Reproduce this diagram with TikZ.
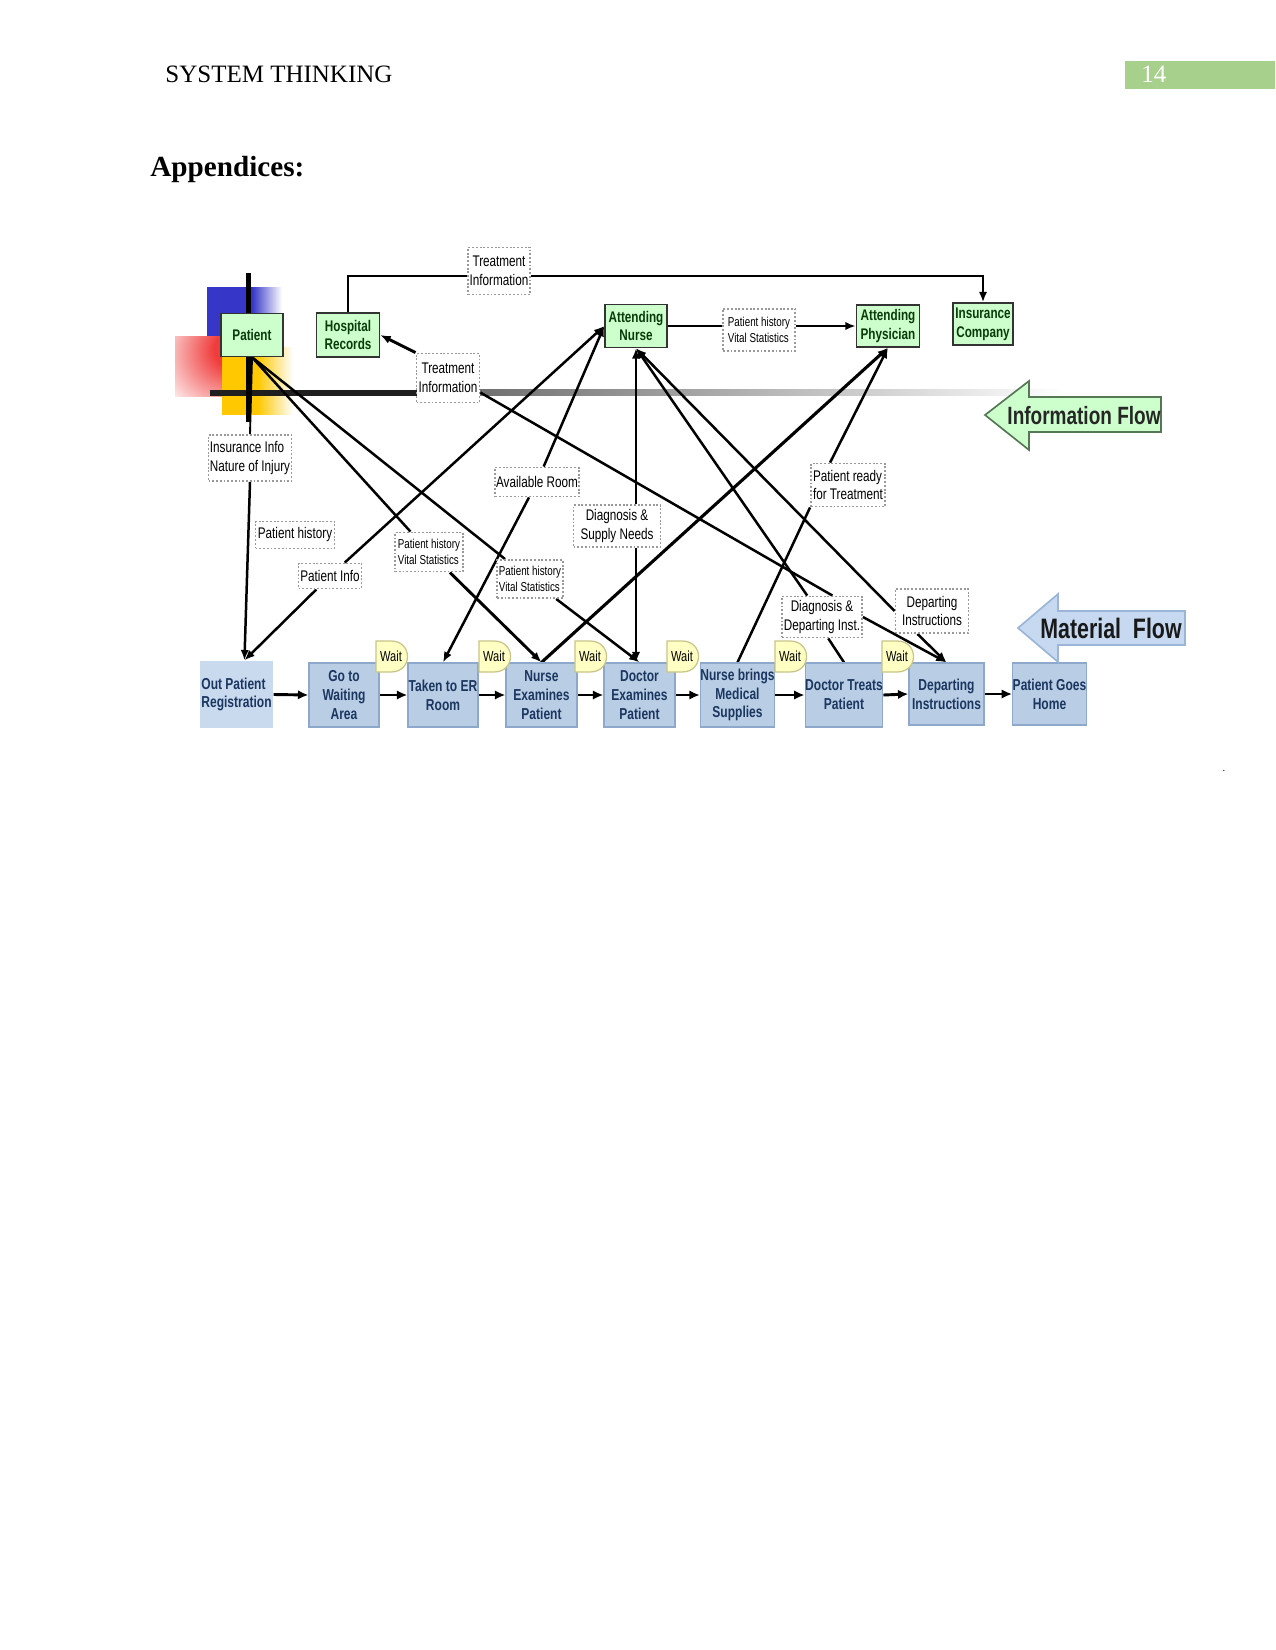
\documentclass[tikz,border=0pt]{standalone}
\usepackage{fontspec}
\setmainfont{Liberation Serif}
\newfontfamily\nar[FakeStretch=0.76]{Liberation Sans}
\usetikzlibrary{arrows.meta,calc}
\pgfdeclarelayer{bg}
\pgfsetlayers{bg,main}
\definecolor{gfill}{HTML}{CCFFCC}
\definecolor{gtext}{HTML}{0A3A0A}
\definecolor{bfill}{HTML}{B9CDE5}
\definecolor{bline}{HTML}{8EA8CB}
\definecolor{btext}{HTML}{1B3760}
\definecolor{ofill}{HTML}{C9DAEF}
\definecolor{wfill}{HTML}{FFFFC4}
\definecolor{wline}{HTML}{C9C48A}
\definecolor{pgreen}{HTML}{A8D08D}
\definecolor{sqblue}{HTML}{3636C8}
\definecolor{sqred}{HTML}{F03C3C}
\definecolor{sqyellow}{HTML}{FFC800}
\definecolor{mfill}{HTML}{C6D9F1}
\definecolor{mline}{HTML}{9AB5D8}
\definecolor{iline}{HTML}{557755}
\pgfdeclarehorizontalshading{bluefade}{100bp}{color(0bp)=(sqblue); color(55bp)=(sqblue); color(75bp)=(white); color(100bp)=(white)}
\pgfdeclarehorizontalshading{yellowfade}{100bp}{color(0bp)=(sqyellow); color(50bp)=(sqyellow); color(75bp)=(white); color(100bp)=(white)}
\pgfdeclareradialshading{redfade}{\pgfpoint{25bp}{18bp}}{color(0bp)=(sqred); color(16bp)=(sqred); color(55bp)=(white); color(100bp)=(white)}
\tikzset{
  boxsz/.style 2 args={minimum width=#1*0.48pt, minimum height=#2*0.48pt},
  greenbox/.style={draw=black!80, line width=0.7pt, fill=gfill, text=gtext, font=\nar\bfseries\fontsize{7.4}{9}\selectfont, align=center, inner sep=0pt},
  bluebox/.style={draw=bline, line width=0.6pt, fill=bfill, text=btext, font=\nar\bfseries\fontsize{7.6}{9}\selectfont, align=center, inner sep=0pt},
  dlab/.style={draw=black!40, dash pattern=on 0.9pt off 0.9pt, line width=0.9pt, fill=white, font=\nar\fontsize{7.4}{9.1}\selectfont, align=center, inner sep=0pt},
  sdlab/.style={dlab, font=\nar\fontsize{6.2}{7.7}\selectfont},
  conn/.style={line width=1.2pt, draw=black},
  arr/.style={conn, -{Latex[length=5pt,width=4pt]}},
  flowarr/.style={line width=1.4pt, -{Latex[length=5pt,width=4.5pt]}},
  waitshape/.style={draw=wline, fill=wfill, line width=0.6pt}
}
\begin{document}
\begin{tikzpicture}[x=0.48pt,y=-0.48pt]
\useasboundingbox (0,0) rectangle (1275,1650);
\begin{pgfonlayer}{bg}
\fill[white] (0,0) rectangle (1275,1650);
\shade[shading=bluefade] (207,288) rectangle (282,338);
\shade[shading=redfade] (175,337) rectangle (240,397);
\shade[shading=yellowfade] (222,348) rectangle (293,415);
\fill[black!88] (210,390) rectangle (420,396);
\shade[left color=black!62, right color=white] (420,390) rectangle (1065,396);
\fill[black] (245.5,273) rectangle (250.5,422);
\end{pgfonlayer}

% header
\fill[pgreen] (1125,61) rectangle (1275,89);
\node[anchor=base west, font=\fontsize{12}{14}\selectfont, text=white, inner sep=0] (pnum) at (1141,83) {14};
\node[anchor=base west, font=\fontsize{12}{14}\selectfont, inner sep=0] (hdr) at (165,83) {SYSTEM THINKING};
\node[anchor=base west, font=\bfseries\fontsize{14}{16}\selectfont, inner sep=0] (appx) at (150,177) {Appendices:};
\node[font=\fontsize{5}{6}\selectfont, inner sep=0] (dot) at (1224,771) {.};

% green boxes
\node[greenbox,boxsz={62}{43}] (patient) at (252,335) {Patient};
\node[greenbox,boxsz={63}{44}] (hosp) at (348,335) {Hospital\\Records};
\node[greenbox,boxsz={62}{43}] (anurse) at (636,326) {Attending\\Nurse};
\node[greenbox,boxsz={63}{42}] (aphys) at (888,326) {Attending\\Physician};
\node[greenbox,boxsz={60}{42}] (insur) at (983,324) {Insurance\\Company};

% dotted labels
\node[dlab,boxsz={62}{47}] (tinfo1) at (499,271) {Treatment\\Information};
\node[dlab,boxsz={63}{49}] (tinfo2) at (448,378) {Treatment\\Information};
\node[dlab,boxsz={83}{46},align=left] (insinfo) at (250,458) {Insurance Info\\Nature of Injury};
\node[dlab,boxsz={79}{27}] (phist) at (295,535) {Patient history};
\node[dlab,boxsz={63}{25}] (pinfo) at (330,576) {Patient Info};
\node[sdlab,boxsz={68}{39},align=left] (phvs1) at (429,552) {Patient history\\Vital Statistics};
\node[sdlab,boxsz={66}{38},align=left] (phvs2) at (530,579) {Patient history\\Vital Statistics};
\node[sdlab,boxsz={72}{42},align=left] (phvs3) at (759,330) {Patient history\\Vital Statistics};
\node[dlab,boxsz={84}{29}] (avroom) at (537,482) {Available Room};
\node[dlab,boxsz={87}{42}] (dsn) at (617,526) {Diagnosis \&\\Supply Needs};
\node[dlab,boxsz={74}{43},align=left] (pready) at (848,485) {Patient ready\\for Treatment};
\node[dlab,boxsz={80}{41}] (ddi) at (822,617) {Diagnosis \&\\Departing Inst.};
\node[dlab,boxsz={73}{44}] (dinstr) at (932,611) {Departing\\Instructions};

% blue boxes
\node[bluebox,boxsz={73}{67},draw=none,fill=ofill,align=left] (opr) at (236.5,694.5) {Out Patient\\Registration};
\node[bluebox,boxsz={70}{64}] (gowait) at (344,695) {Go to\\Waiting\\Area};
\node[bluebox,boxsz={70}{64}] (taken) at (443,695) {Taken to ER\\Room};
\node[bluebox,boxsz={71}{64}] (nexam) at (541.5,695) {Nurse\\Examines\\Patient};
\node[bluebox,boxsz={71}{64}] (dexam) at (639.5,695) {Doctor\\Examines\\Patient};
\node[bluebox,boxsz={71}{64}] (nbring) at (737.5,695) {Nurse brings\\Medical\\Supplies};
\node[bluebox,boxsz={76}{64}] (dtreat) at (844,695) {Doctor Treats\\Patient};
\node[bluebox,boxsz={75}{62}] (depart) at (946.5,694) {Departing\\Instructions};
\node[bluebox,boxsz={73}{62}] (home) at (1049.5,694) {Patient Goes\\Home};

% wait tabs
\foreach \xo [count=\i] in {376,479,575,667,775,882} {
  \draw[waitshape] (\xo,641) -- (\xo+15,641) .. controls (\xo+37,641) and (\xo+37,672) .. (\xo+15,672) -- (\xo,672) -- cycle;
  \node[font=\nar\fontsize{7}{8}\selectfont, inner sep=0] (wait\i) at (\xo+15,656) {Wait};
}

% flow arrows
\draw[fill=gfill, draw=iline, line width=0.8pt] (985,415) -- (1029,381) -- (1029,397) -- (1161,397) -- (1161,432) -- (1029,432) -- (1029,450) -- cycle;
\node[font=\nar\bfseries\fontsize{12}{14}\selectfont, text=black!85] (iflow) at (1084,416) {Information Flow};
\draw[fill=mfill, draw=mline, line width=0.8pt] (1018,628) -- (1058,594) -- (1058,611) -- (1185,611) -- (1185,645) -- (1058,645) -- (1058,662) -- cycle;
\node[font=\nar\bfseries\fontsize{13.5}{15}\selectfont, text=black!90] (mflow) at (1111,628) {Material\ \ Flow};

% connectors
\begin{pgfonlayer}{bg}
\draw[conn, line width=0.9pt] (patient.south) -- (insinfo.north);
\draw[arr] (insinfo.south) -- ([xshift=3.8pt]opr.north);
\draw[arr] (pinfo) -- ([xshift=3.8pt]opr.north);
\draw[arr] (pinfo) -- (anurse.west);
\draw[arr] (avroom) -- (anurse.west);
\draw[arr] (avroom) -- (taken.north);
\draw[conn] (patient.south) -- (phvs1);
\draw[arr, line width=1.4pt] (phvs1) -- (nexam.north);
\draw[conn] (patient.south) -- (phvs2);
\draw[arr] (phvs2) -- (dexam.north);
\draw[arr] (anurse.south |- dsn.north) -- (anurse.south);
\draw[arr] (anurse.south |- dsn.south) -- (anurse.south |- dexam.north);
\draw[arr] (ddi) -- (anurse.south);
\draw[arr] (dinstr.west) -- (anurse.south);
\draw[arr] ([xshift=-7pt]dinstr.south) -- (depart.north);
\draw[arr] (ddi.east) -- (depart.north);
\draw[conn] ([xshift=3pt]ddi.south) -- (dtreat.north);
\draw[conn] ([yshift=-7pt]tinfo2.east) -- ([xshift=5pt]ddi.north);
\draw[arr, line width=1.4pt] (tinfo2.north west) -- (hosp.east);
\draw[conn] (hosp.north) |- ([yshift=-2.4pt]tinfo1.west);
\draw[arr] ([yshift=-2.4pt]tinfo1.east) -| (insur.north);
\draw[conn] (anurse.east) -- (anurse.east -| phvs3.west);
\draw[arr] (phvs3.east |- aphys.west) -- (aphys.west);
\draw[arr, line width=1.5pt] (nexam.north) -- (aphys.south);
\draw[arr] ([xshift=-8.6pt]pready.north) -- (aphys.south);
\draw[conn] (pready.south west) -- (nbring.north);
\draw[flowarr] (opr.east) -- (gowait.west);
\draw[flowarr] (gowait.east) -- (taken.west);
\draw[flowarr] (taken.east) -- (nexam.west);
\draw[flowarr] (nexam.east) -- (dexam.west);
\draw[flowarr] (dexam.east) -- (nbring.west);
\draw[flowarr] (nbring.east) -- (dtreat.west);
\draw[flowarr] (dtreat.east) -- (depart.west);
\draw[flowarr] (depart.east) -- (home.west);
\end{pgfonlayer}
\end{tikzpicture}
\end{document}
